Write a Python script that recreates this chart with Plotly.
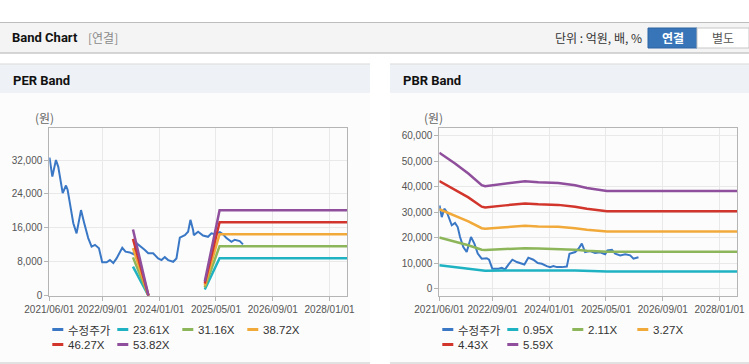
import plotly.graph_objects as go

W, H = 749, 364

# ---------------- data ----------------
x_tick_dates = ["2021-06-01", "2022-09-01", "2024-01-01", "2025-05-01", "2026-09-01", "2028-01-01"]
x_tick_labels = ["2021/06/01", "2022/09/01", "2024/01/01", "2025/05/01", "2026/09/01", "2028/01/01"]
x_range = ["2021-06-01", "2028-06-01"]

per_y_ticks = [0, 8000, 16000, 24000, 32000]
pbr_y_ticks = [0, 10000, 20000, 30000, 40000, 50000, 60000]

series_colors = ["#3a78c6", "#1fb2c2", "#8db65a", "#f1a93a", "#d2352c", "#8f4f9c"]

# PER chart
per_price_dates = [
    "2021-06-03", "2021-06-27", "2021-07-28", "2021-08-17", "2021-09-24", "2021-10-22",
    "2021-11-05", "2021-11-25", "2021-12-24", "2022-01-21", "2022-02-28", "2022-03-28",
    "2022-05-01", "2022-05-30", "2022-06-28", "2022-08-01", "2022-08-29", "2022-10-06",
    "2022-11-03", "2022-12-02", "2022-12-30", "2023-02-17", "2023-03-17", "2023-04-23",
    "2023-05-22", "2023-06-20", "2023-07-27", "2023-08-30", "2023-09-28", "2023-11-09",
    "2023-12-22", "2024-01-20", "2024-02-17", "2024-03-17", "2024-04-29", "2024-05-27",
    "2024-06-25", "2024-08-07", "2024-09-04", "2024-09-24", "2024-10-17", "2024-10-23",
    "2024-11-29", "2025-01-10", "2025-02-22", "2025-03-23", "2025-04-21", "2025-06-03",
    "2025-07-01", "2025-07-30", "2025-09-11", "2025-10-09", "2025-11-21", "2025-12-19",
]
per_price_values = [
    32600, 28100, 32000, 30400, 24200, 26000,
    25000, 21800, 17100, 14700, 20200, 17100,
    13600, 11600, 12000, 11200, 7900, 7900,
    8400, 7700, 8800, 11300, 10400, 10200,
    9800, 12400, 11600, 10800, 10000, 10000,
    8800, 8400, 9100, 8400, 8000, 8800,
    13700, 14300, 15100, 17900, 15500, 14300,
    15100, 14200, 13900, 14700, 14500, 15000,
    14500, 13600, 12700, 13200, 12900, 12100,
]
per_names = ["수정주가", "23.61X", "31.16X", "38.72X", "46.27X", "53.82X"]
per_band_dates = ["2023-05-20", "2023-09-30", None, "2025-01-25", "2025-06-01", "2028-06-01"]
per_band_2361 = [6850, 0, None, 1460, 8850, 8850]
per_band_3116 = [9040, 0, None, 1930, 11690, 11690]
per_band_3872 = [11230, 0, None, 2400, 14520, 14520]
per_band_4627 = [13420, 0, None, 2870, 17350, 17350]
per_band_5382 = [15610, 0, None, 3340, 20180, 20180]

# PBR chart
pbr_price_dates = [
    "2021-06-03", "2021-06-22", "2021-07-14", "2021-08-04", "2021-09-16", "2021-10-14",
    "2021-11-06", "2021-11-26", "2021-12-24", "2022-01-22", "2022-02-28", "2022-03-29",
    "2022-04-27", "2022-05-31", "2022-07-13", "2022-08-02", "2022-08-30", "2022-10-21",
    "2022-11-19", "2022-12-17", "2023-01-15", "2023-02-18", "2023-03-28", "2023-05-04",
    "2023-06-01", "2023-07-05", "2023-08-17", "2023-09-24", "2023-10-29", "2023-12-10",
    "2024-01-08", "2024-02-05", "2024-03-05", "2024-04-17", "2024-05-30", "2024-06-22",
    "2024-07-26", "2024-08-10", "2024-09-07", "2024-10-06", "2024-11-03", "2024-12-16",
    "2025-01-28", "2025-03-12", "2025-04-24", "2025-05-14", "2025-06-21", "2025-07-19",
    "2025-08-31", "2025-10-13", "2025-11-25", "2025-12-23", "2026-02-04",
]
pbr_price_values = [
    32700, 28100, 31400, 30100, 24900, 25800,
    24200, 20300, 16400, 14400, 20300, 17700,
    13800, 11800, 12000, 11400, 7900, 7900,
    8200, 7600, 9500, 11400, 10500, 10100,
    9500, 12200, 11400, 10100, 9800, 8900,
    8500, 8900, 8500, 8500, 8700, 13750,
    14100, 14400, 15700, 17700, 14400, 14800,
    14000, 14300, 13500, 15000, 15300, 13750,
    13100, 13500, 13100, 11800, 12400,
]
pbr_names = ["수정주가", "0.95X", "2.11X", "3.27X", "4.43X", "5.59X"]
pbr_band_dates = ["2021-06-01", "2021-10-14", "2022-02-05", "2022-05-31", "2022-06-29", "2022-12-18",
                  "2023-06-06", "2023-09-28", "2024-03-18", "2024-08-09", "2024-11-18", "2025-05-09",
                  "2028-06-01"]
pbr_band_095 = [9200, 8450, 7780, 7100, 7050, 7200, 7300, 7250, 7200, 7150, 7000, 6800, 6800]
pbr_band_211 = [20120, 18550, 17060, 15330, 15180, 15580, 15920, 15770, 15670, 15330, 14930, 14550, 14550]
pbr_band_327 = [31180, 28750, 26440, 23750, 23520, 24140, 24670, 24440, 24280, 23750, 23130, 22440, 22440]
pbr_band_443 = [42240, 38930, 35810, 32180, 31860, 32700, 33420, 33110, 32890, 32180, 31340, 30400, 30400]
pbr_band_559 = [53300, 49120, 45190, 40600, 40200, 41260, 42170, 41780, 41500, 40600, 39540, 38360, 38360]

# ---------------- helpers ----------------
def fx(px):
    return px / W

def fy(py):
    return 1 - py / H

KR = "Noto Sans CJK KR"
NUM = "Liberation Sans, Arial, sans-serif"
LAT = "Roboto, Liberation Sans, sans-serif"

fig = go.Figure()

per_bands = [per_band_2361, per_band_3116, per_band_3872, per_band_4627, per_band_5382]
pbr_bands = [pbr_band_095, pbr_band_211, pbr_band_327, pbr_band_443, pbr_band_559]

fig.add_trace(go.Scatter(x=per_price_dates, y=per_price_values, mode="lines",
                         line=dict(color=series_colors[0], width=2), xaxis="x", yaxis="y",
                         name=per_names[0], showlegend=False, hoverinfo="skip"))
for i, band in enumerate(per_bands):
    fig.add_trace(go.Scatter(x=per_band_dates, y=band, mode="lines",
                             line=dict(color=series_colors[i + 1], width=2.5), xaxis="x", yaxis="y",
                             name=per_names[i + 1], showlegend=False, hoverinfo="skip",
                             connectgaps=False))

fig.add_trace(go.Scatter(x=pbr_price_dates, y=pbr_price_values, mode="lines",
                         line=dict(color=series_colors[0], width=2), xaxis="x2", yaxis="y2",
                         name=pbr_names[0], showlegend=False, hoverinfo="skip"))
for i, band in enumerate(pbr_bands):
    fig.add_trace(go.Scatter(x=pbr_band_dates, y=band, mode="lines",
                             line=dict(color=series_colors[i + 1], width=2.5), xaxis="x2", yaxis="y2",
                             name=pbr_names[i + 1], showlegend=False, hoverinfo="skip"))

axis_common = dict(showline=True, mirror=True, linecolor="#b5b5b5", linewidth=1,
                   gridcolor="#e9e9e9", gridwidth=1, zeroline=False, automargin=False,
                   ticks="outside", ticklen=4, tickcolor="#b5b5b5",
                   tickfont=dict(family=NUM, size=10, color="#555555"))

xcommon = dict(axis_common, type="date", range=x_range, tickmode="array",
               tickvals=x_tick_dates, ticktext=x_tick_labels, tickangle=0)

shapes = []
annotations = []

def rect(x0, y0, x1, y1, fill, line=None, lw=0):
    shapes.append(dict(type="rect", xref="paper", yref="paper", x0=fx(x0), x1=fx(x1),
                       y0=fy(y1), y1=fy(y0), fillcolor=fill,
                       line=dict(color=line or fill, width=lw), layer="below"))

def hline(x0, x1, y, color, lw=1):
    shapes.append(dict(type="line", xref="paper", yref="paper", x0=fx(x0), x1=fx(x1),
                       y0=fy(y), y1=fy(y), line=dict(color=color, width=lw), layer="below"))

def text(x, y, s, size=12, color="#333", family=KR, xanchor="left", bold=False):
    if bold:
        s = "<b>" + s + "</b>"
    annotations.append(dict(x=fx(x), y=fy(y), xref="paper", yref="paper", text=s,
                            showarrow=False, xanchor=xanchor, yanchor="middle",
                            font=dict(family=family, size=size, color=color)))

# header bar
rect(0, 22.5, 749, 53, "#f4f4f4")
hline(0, 749, 22.5, "#bdbdbd", 1)
hline(0, 749, 53, "#c9c9c9", 1.5)
text(10, 38, "Band Chart", size=13, color="#111", family=LAT, bold=True)
text(86, 38, "[연결]", size=12, color="#8a8a8a")
text(644, 38, "단위 : 억원, 배, %", size=12, color="#333", xanchor="right")
shapes.append(dict(type="rect", xref="paper", yref="paper", x0=fx(648), x1=fx(697),
                   y0=fy(48), y1=fy(28), fillcolor="#3875b8",
                   line=dict(color="#2d64a0", width=1), layer="below"))
shapes.append(dict(type="rect", xref="paper", yref="paper", x0=fx(697), x1=fx(749),
                   y0=fy(48), y1=fy(28), fillcolor="#ffffff",
                   line=dict(color="#c6c6c6", width=1), layer="below"))
text(672.5, 38, "연결", size=12, color="#ffffff", xanchor="center", bold=True)
text(723, 38, "별도", size=12, color="#555555", xanchor="center")

# panels
for (px0, px1, title, names, plot_left) in [(0, 370, "PER Band", per_names, 49.3),
                                             (390, 749, "PBR Band", pbr_names, 439.3)]:
    rect(px0, 64, px1, 363, "#fcfcfc")
    rect(px0, 64, px1, 93, "#eef2f7")
    hline(px0, px1, 64, "#d9d9d9", 1)
    hline(px0, px1, 363, "#d9d9d9", 1.5)
    text(px0 + 11, 80, title, size=13, color="#111", family=LAT, bold=True)
    text(plot_left - 5.3, 118, "(원)", size=12, color="#666", xanchor="center")
    # legend
    for k, nm in enumerate(names):
        row, col = divmod(k, 4)
        lx = plot_left + 3 + col * 65
        ly = 329.5 + row * 15
        shapes.append(dict(type="line", xref="paper", yref="paper", x0=fx(lx), x1=fx(lx + 11),
                           y0=fy(ly), y1=fy(ly), line=dict(color=series_colors[k], width=3)))
        text(lx + 13.5, ly, nm, size=11.5, color="#333",
             family=(KR if k == 0 else NUM))

fig.update_layout(
    width=W, height=H,
    margin=dict(l=0, r=0, t=0, b=0, autoexpand=False),
    paper_bgcolor="#ffffff",
    plot_bgcolor="#ffffff",
    showlegend=False,
    xaxis=dict(xcommon, domain=[fx(49.3), fx(347.3)], anchor="y"),
    yaxis=dict(axis_common, domain=[fy(295.7), fy(128.3)], range=[0, 39500],
               tickmode="array", tickvals=per_y_ticks, tickformat=",", anchor="x"),
    xaxis2=dict(xcommon, domain=[fx(439.3), fx(737.3)], anchor="y2"),
    yaxis2=dict(axis_common, domain=[fy(295.7), fy(128.3)], range=[-2700, 62900],
                tickmode="array", tickvals=pbr_y_ticks, tickformat=",", anchor="x2"),
    shapes=shapes,
    annotations=annotations,
)

fig.write_html("out.html", config={"displayModeBar": False},
               post_script="document.body.style.margin='0';document.body.style.overflow='hidden';")
